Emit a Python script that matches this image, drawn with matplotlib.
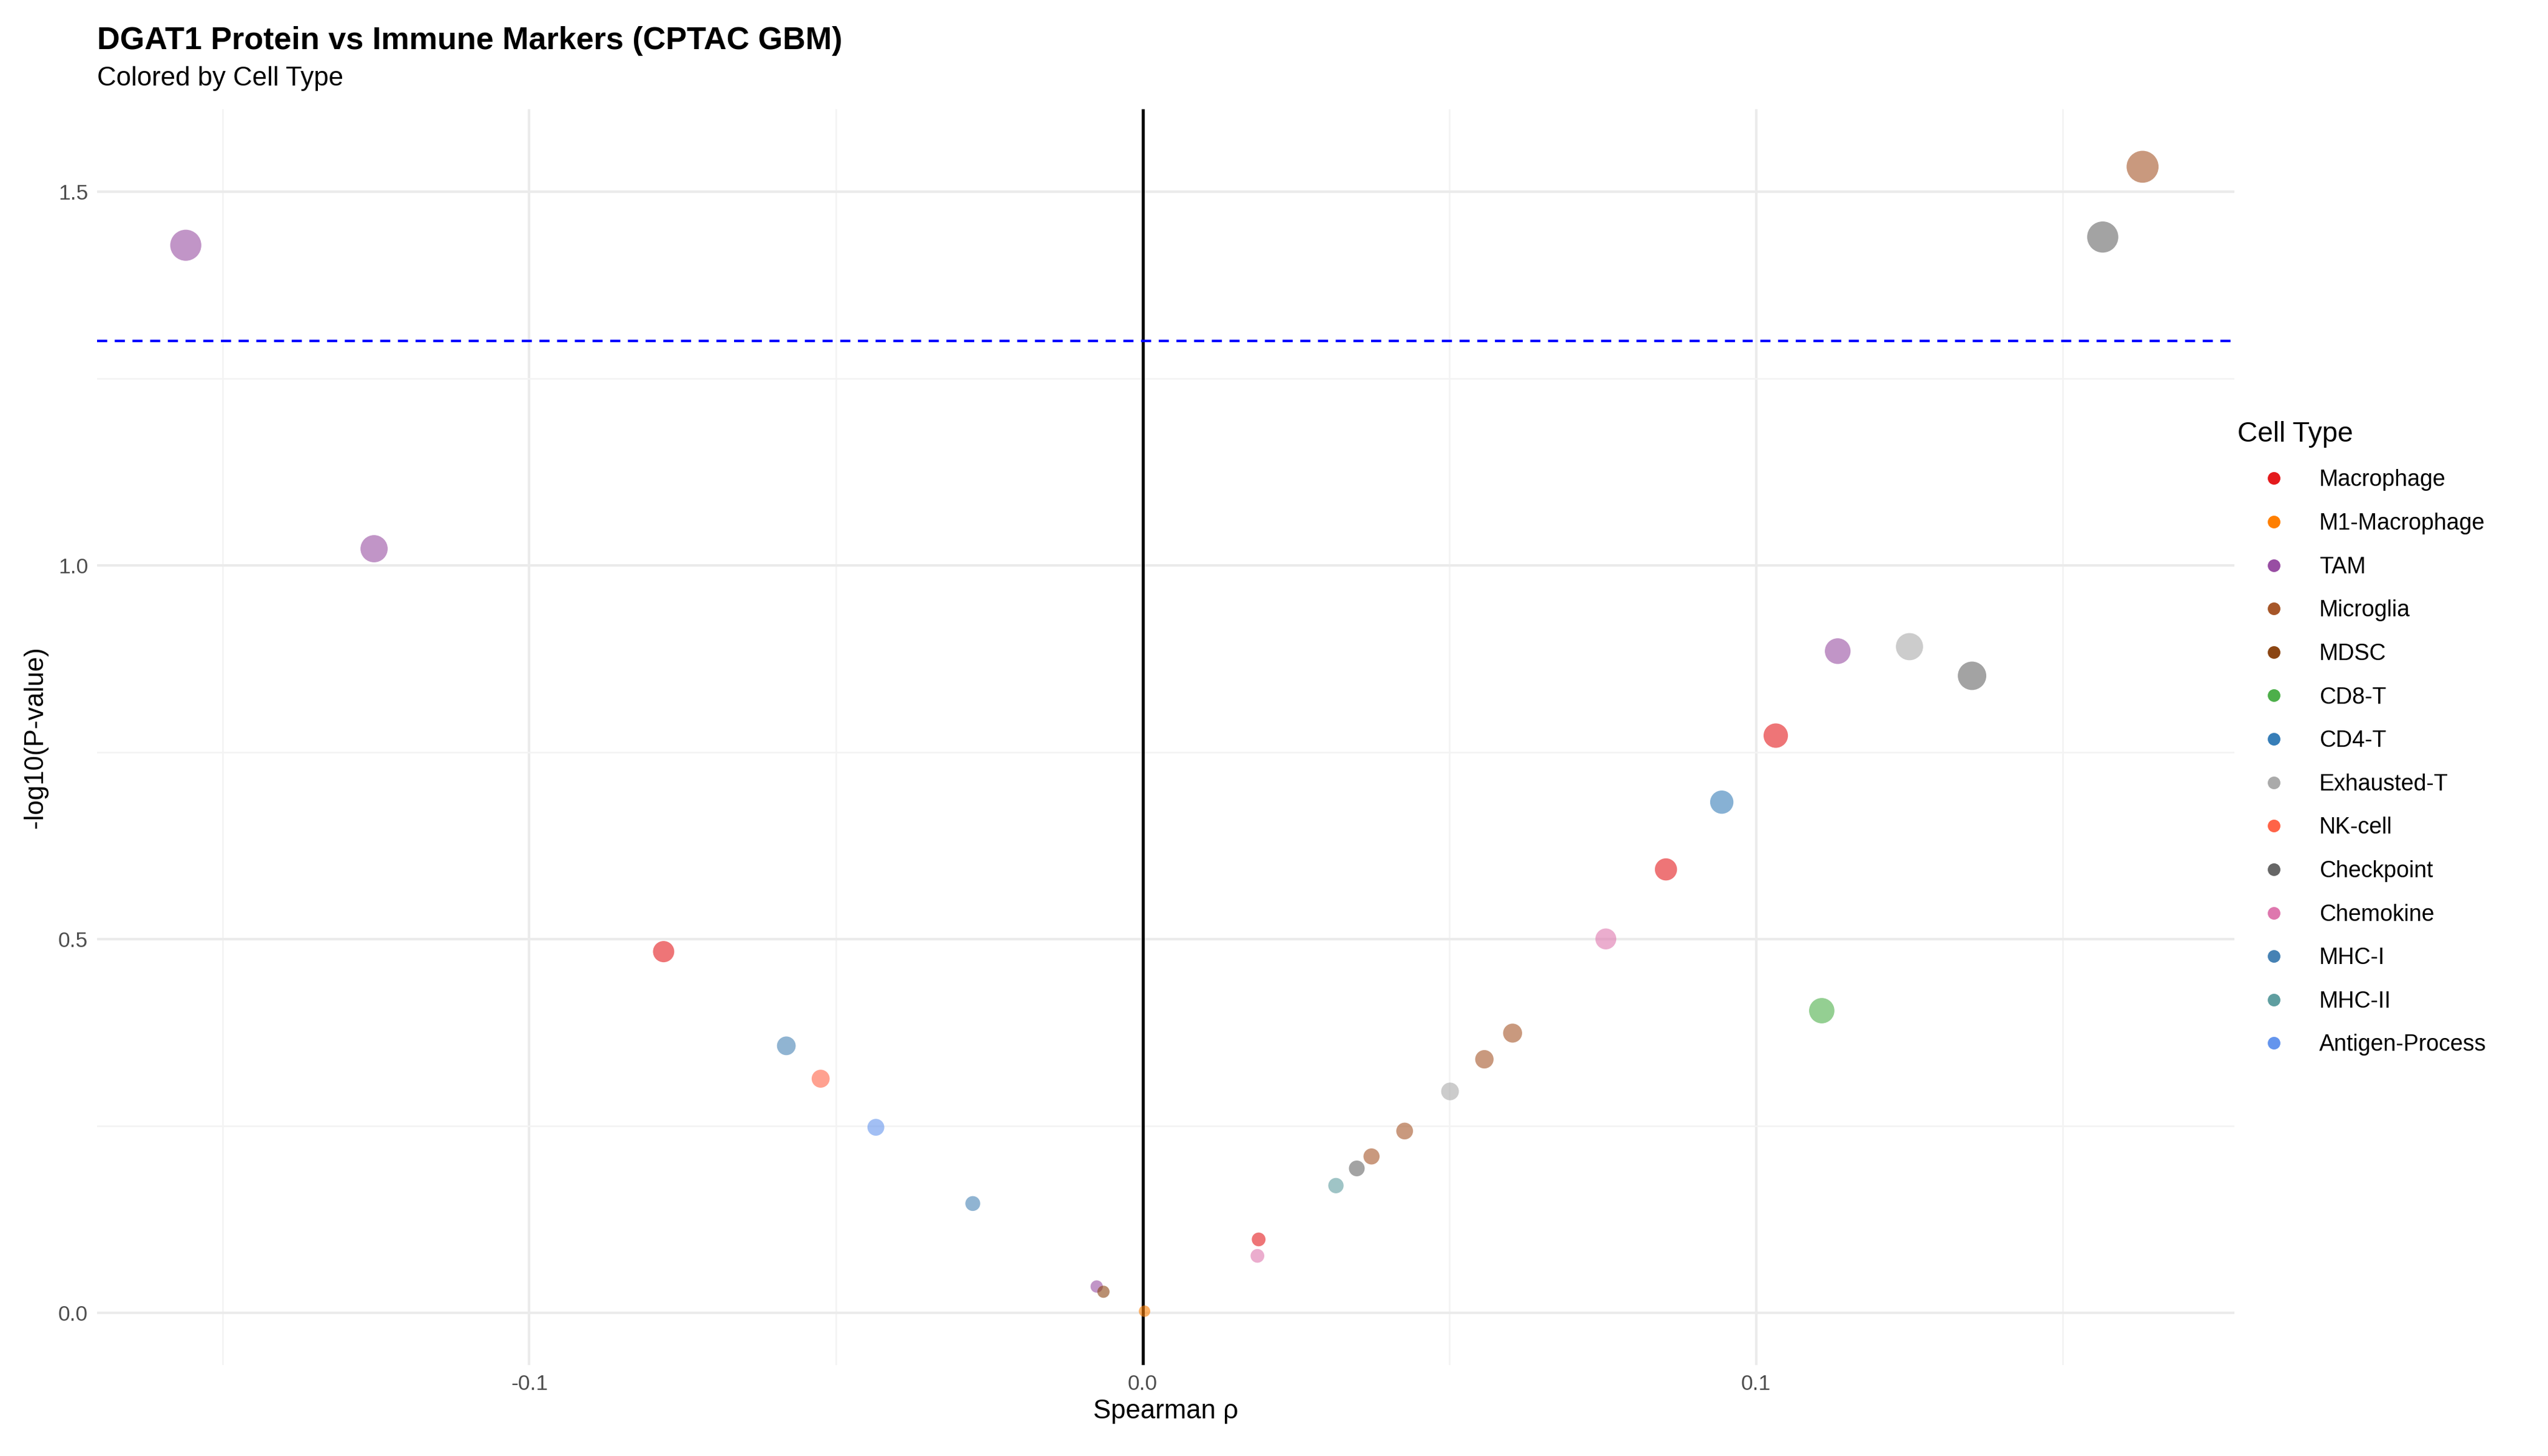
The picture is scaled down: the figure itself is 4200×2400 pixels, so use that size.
import matplotlib
matplotlib.use('Agg')
import matplotlib.pyplot as plt
from matplotlib.lines import Line2D
import numpy as np

plt.rcParams['font.family'] = ['Liberation Sans', 'DejaVu Sans']

cell_types = ['Macrophage', 'M1-Macrophage', 'TAM', 'Microglia', 'MDSC', 'CD8-T', 'CD4-T',
              'Exhausted-T', 'NK-cell', 'Checkpoint', 'Chemokine', 'MHC-I', 'MHC-II', 'Antigen-Process']
type_colors = ['#E41A1C', '#FF7F00', '#984EA3', '#A65628', '#8B4513', '#4DAF4A', '#377EB8',
               '#AAAAAA', '#FF6347', '#666666', '#DE77AE', '#4682B4', '#5F9EA0', '#6495ED']

rho = [-0.156, -0.1253, -0.0781, -0.0581, -0.0525, -0.0435, -0.0277, -0.0075, -0.0064, 0.0003,
       0.0189, 0.0187, 0.0315, 0.0349, 0.0373, 0.0427, 0.0501, 0.0557, 0.0603, 0.0755,
       0.0853, 0.0944, 0.1032, 0.1107, 0.1133, 0.125, 0.1352, 0.1565, 0.163]
neglogp = [1.428, 1.022, 0.483, 0.357, 0.313, 0.248, 0.146, 0.035, 0.028, 0.002,
           0.098, 0.076, 0.170, 0.193, 0.209, 0.243, 0.296, 0.339, 0.374, 0.500,
           0.593, 0.683, 0.772, 0.404, 0.885, 0.891, 0.852, 1.439, 1.533]
marker_type = ['TAM', 'TAM', 'Macrophage', 'MHC-I', 'NK-cell', 'Antigen-Process', 'MHC-I', 'TAM', 'MDSC', 'M1-Macrophage',
               'Macrophage', 'Chemokine', 'MHC-II', 'Checkpoint', 'Microglia', 'Microglia', 'Exhausted-T', 'Microglia', 'Microglia', 'Chemokine',
               'Macrophage', 'CD4-T', 'Macrophage', 'CD8-T', 'TAM', 'Exhausted-T', 'Checkpoint', 'Checkpoint', 'Microglia']

cmap = dict(zip(cell_types, type_colors))
rho = np.array(rho)
sizes = (4.5 + 50 * np.abs(rho)) ** 2

fig = plt.figure(figsize=(14, 8), dpi=300)
ax = fig.add_axes([0.038, 0.0625, 0.839, 0.8625])
ax.set_xlim(-0.1705, 0.178)
ax.set_ylim(-0.07, 1.61)
for s in ax.spines.values():
    s.set_visible(False)
ax.set_xticks([-0.1, 0, 0.1])
ax.set_xticklabels(['-0.1', '0.0', '0.1'])
ax.set_yticks([0, 0.5, 1.0, 1.5])
ax.set_yticklabels(['0.0', '0.5', '1.0', '1.5'])
ax.set_xticks([-0.15, -0.05, 0.05, 0.15], minor=True)
ax.set_yticks([0.25, 0.75, 1.25], minor=True)
ax.grid(which='major', color='#EBEBEB', lw=1.0)
ax.grid(which='minor', color='#F3F3F3', lw=0.6)
ax.tick_params(which='both', length=0, labelsize=8.5, labelcolor='#4D4D4D')
ax.set_axisbelow(True)

ax.axvline(0, color='black', lw=1.2)
ax.axhline(1.3, color='blue', lw=1.0, ls=(0, (4, 3)))

ax.scatter(rho, neglogp, s=sizes, c=[cmap[t] for t in marker_type], alpha=0.6, edgecolors='none', zorder=3)

ax.set_xlabel('Spearman ρ', fontsize=10.5, labelpad=2)
ax.set_ylabel('-log10(P-value)', fontsize=10.5, labelpad=4)

fig.text(0.038, 0.972, 'DGAT1 Protein vs Immune Markers (CPTAC GBM)', fontsize=12.5, fontweight='bold', va='center')
fig.text(0.038, 0.946, 'Colored by Cell Type', fontsize=10.5, va='center')

handles = [Line2D([], [], marker='o', ls='', color=c, markersize=4, label=t) for t, c in zip(cell_types, type_colors)]
leg = fig.legend(handles=handles, title='Cell Type', loc='upper left', bbox_to_anchor=(0.87, 0.725),
                 frameon=False, fontsize=9, title_fontsize=11, labelspacing=0.95,
                 handlelength=3.2, handletextpad=0.4)
leg._legend_box.align = 'left'

fig.savefig('out.png', dpi=300, facecolor='white')
